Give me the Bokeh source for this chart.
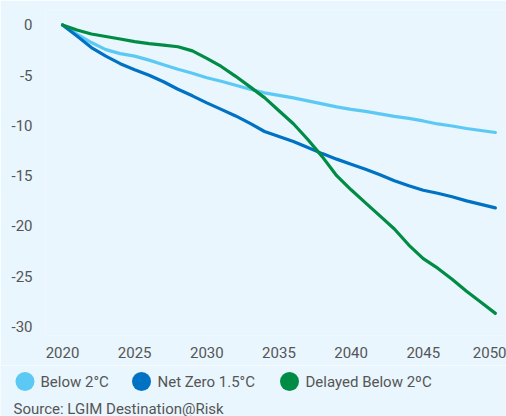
from bokeh.plotting import figure
from bokeh.layouts import column
from bokeh.models import Range1d, SingleIntervalTicker, ColumnDataSource, PrintfTickFormatter
from bokeh.core.properties import value
from bokeh.embed import file_html
from bokeh.resources import INLINE

years = list(range(2020, 2051))

below_2c = [0, -0.9, -1.75, -2.45, -2.85, -3.1, -3.5, -3.95, -4.4, -4.8,
            -5.25, -5.6, -6.0, -6.4, -6.75, -7.0, -7.25, -7.55, -7.85, -8.15,
            -8.4, -8.6, -8.85, -9.1, -9.3, -9.55, -9.85, -10.05, -10.3, -10.5,
            -10.7]
net_zero_15c = [0, -1.1, -2.25, -3.1, -3.85, -4.45, -5.0, -5.65, -6.4, -7.05,
                -7.75, -8.4, -9.05, -9.8, -10.6, -11.1, -11.6, -12.2, -12.8, -13.35,
                -13.85, -14.35, -14.9, -15.5, -16.0, -16.45, -16.75, -17.1, -17.5, -17.85,
                -18.2]
delayed_below_2c = [0, -0.5, -0.9, -1.15, -1.4, -1.65, -1.85, -2.0, -2.17, -2.58,
                    -3.32, -4.13, -5.11, -6.16, -7.23, -8.53, -9.83, -11.4, -13.1, -15.0,
                    -16.4, -17.7, -19.0, -20.3, -21.9, -23.25, -24.2, -25.3, -26.5, -27.6,
                    -28.7]

series_names = ["Below 2°C", "Net Zero 1.5°C", "Delayed Below 2ºC"]
series_values = [below_2c, net_zero_15c, delayed_below_2c]
colors = ["#5CC9F5", "#0072C3", "#008C45"]

BG = "#E9F6FE"
TEXT = "#555555"
FONT = "Roboto"

p = figure(width=506, height=365, output_backend="svg", toolbar_location=None,
           x_range=Range1d(2018.82, 2050.77), y_range=Range1d(-30.9, 1.44),
           min_border_left=45, min_border_right=0, min_border_top=10,
           min_border_bottom=30)
p.frame_align = False
p.background_fill_color = BG
p.border_fill_color = BG
p.outline_line_color = None
p.grid.visible = False

for vals, col in zip(series_values, colors):
    p.line(years, vals, line_color=col, line_width=3.2, line_join="round",
           line_cap="round")

p.xaxis.ticker = SingleIntervalTicker(interval=5)
p.yaxis.ticker = SingleIntervalTicker(interval=5)
p.yaxis.formatter = PrintfTickFormatter(format="%d")
for ax in (p.xaxis, p.yaxis):
    ax.axis_line_color = None
    ax.major_tick_line_color = None
    ax.minor_tick_line_color = None
    ax.major_tick_out = 0
    ax.major_label_text_font = FONT
    ax.major_label_text_font_size = "15px"
    ax.major_label_text_color = TEXT
p.xaxis.major_label_standoff = 7
p.yaxis.major_label_standoff = 9

# legend and source note underneath the chart
leg = figure(width=506, height=51, output_backend="svg", toolbar_location=None,
             x_range=Range1d(0, 506), y_range=Range1d(51, 0),
             x_axis_type=None, y_axis_type=None,
             min_border=0, min_border_left=0, min_border_right=0,
             min_border_top=0, min_border_bottom=0)
leg.frame_align = False
leg.background_fill_color = BG
leg.border_fill_color = BG
leg.outline_line_color = None
leg.grid.visible = False

leg_src = ColumnDataSource(dict(
    cx=[24.5, 141, 289], tx=[40, 157, 305], y=[16, 16, 16],
    name=series_names, color=colors))
leg.scatter("cx", "y", source=leg_src, size=19, fill_color="color",
            line_color=None)
leg.text("tx", "y", text="name", source=leg_src, text_font=value(FONT),
         text_font_size="15px", text_color=TEXT, text_baseline="middle")
leg.text([13], [43], text=["Source: LGIM Destination@Risk"], text_font=value(FONT),
         text_font_size="15px", text_color=TEXT, text_baseline="middle")

layout = column(p, leg, spacing=0)
open("out.html", "w").write(file_html(layout, INLINE))
